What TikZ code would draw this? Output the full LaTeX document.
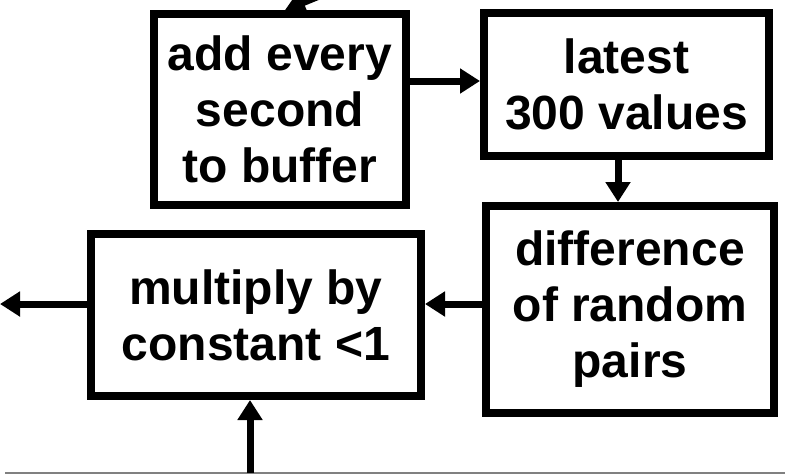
\documentclass[tikz,border=0pt]{standalone}
\usepackage{fontspec}
\setmainfont{Liberation Sans}
\usetikzlibrary{arrows.meta}
\begin{document}
\begin{tikzpicture}[x=1pt,y=-1pt,
  box/.style={draw, line width=8pt, rectangle, font=\bfseries\fontsize{48}{56}\selectfont, align=center, inner sep=0pt},
  arr/.style={line width=7pt, -{Triangle[length=20pt,width=24pt]}}]
\useasboundingbox (0,0) rectangle (785,474);
\clip (0,0) rectangle (785,474);
\node[box, minimum width=252pt, minimum height=191pt] (b1) at (280,109.5) {add every\\second\\to buffer};
\node[box, minimum width=285pt, minimum height=143pt] (b2) at (626.5,84.5) {latest\\300 values};
\node[box, minimum width=288pt, minimum height=207pt] (b3) at (630,309.5) {difference\\of random\\pairs};
\node[box, minimum width=330pt, minimum height=162pt] (b4) at (256,315) {multiply by\\constant <1};
\coordinate (src) at (385,-31);
\coordinate (out) at (0,304);
\coordinate (bot) at (250,473);
\coordinate (gl) at (5,473);
\coordinate (gr) at (785,473);
\draw[gray, line width=1.5pt] (gl) -- (gr);
\draw[arr] (src) -- (b1.north -| 285,0);
\draw[arr] (b1.east |- 0,81) -- (b2.west |- 0,81);
\draw[arr] (b2.south -| 618,0) -- (b3.north -| 618,0);
\draw[arr] (b3.west |- 0,304) -- (b4.east |- 0,304);
\draw[arr] (b4.west |- 0,304) -- (out);
\draw[arr] (bot) -- (b4.south -| 250,0);
\end{tikzpicture}
\end{document}
